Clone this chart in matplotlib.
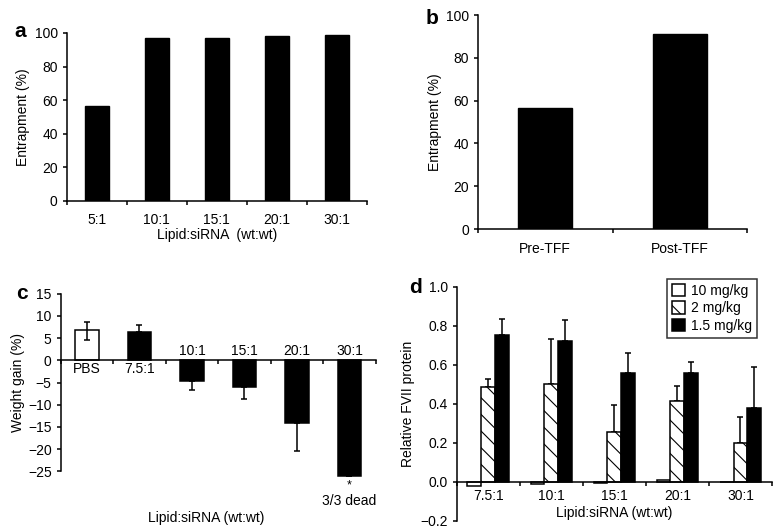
import matplotlib
matplotlib.use("Agg")
import matplotlib.pyplot as plt
import numpy as np

plt.rcParams['font.family'] = ['Liberation Sans', 'DejaVu Sans']
plt.rcParams['font.size'] = 10
plt.rcParams['hatch.linewidth'] = 0.8

# panel a
a_labels = ['5:1', '10:1', '15:1', '20:1', '30:1']
a_vals = [56.5, 97, 97, 98, 98.8]

# panel b
b_labels = ['Pre-TFF', 'Post-TFF']
b_vals = [56.5, 91.3]

# panel c
c_labels = ['PBS', '7.5:1', '10:1', '15:1', '20:1', '30:1']
c_vals = [6.9, 6.4, -4.7, -5.9, -14.1, -26.1]
c_err_low = [2.4, 0, 2.1, 2.8, 6.3, 0]
c_err_high = [1.7, 1.5, 0, 0, 0, 0]

# panel d
d_labels = ['7.5:1', '10:1', '15:1', '20:1', '30:1']
d_series = ['10 mg/kg', '2 mg/kg', '1.5 mg/kg']
d_10 = [-0.02, -0.01, -0.005, 0.008, 0.0]
d_2 = [0.487, 0.499, 0.253, 0.415, 0.197]
d_2_err = [0.038, 0.231, 0.140, 0.075, 0.136]
d_15 = [0.752, 0.721, 0.559, 0.559, 0.376]
d_15_err = [0.082, 0.108, 0.102, 0.053, 0.210]

LW = 1.1


def style_axes(ax):
    for s in ['top', 'right']:
        ax.spines[s].set_visible(False)
    for s in ['left', 'bottom']:
        ax.spines[s].set_linewidth(LW)
    ax.tick_params(axis='both', which='major', direction='out', width=LW, length=3)


def category_ticks(ax, n, pad=5):
    ax.set_xlim(-0.5, n - 0.5)
    ax.set_xticks(np.arange(-0.5, n, 1.0))
    ax.set_xticklabels([])
    ax.set_xticks(np.arange(n), minor=True)
    ax.tick_params(axis='x', which='minor', length=0, pad=pad)


fig = plt.figure(figsize=(7.77, 5.31), dpi=100)

# ---- a ----
ax = fig.add_axes([0.0858, 0.6215, 0.3865, 0.3164])
style_axes(ax)
x = np.arange(len(a_labels))
ax.bar(x, a_vals, width=0.4, color='black', edgecolor='black')
category_ticks(ax, len(a_labels), pad=8.5)
ax.set_xticklabels(a_labels, minor=True)
ax.set_ylim(0, 100)
ax.set_yticks(range(0, 101, 20))
ax.set_ylabel('Entrapment (%)', labelpad=3)
ax.set_xlabel('Lipid:siRNA  (wt:wt)', labelpad=1)
fig.text(0.019, 0.941, 'a', fontsize=15, fontweight='bold', va='center')

# ---- b ----
ax = fig.add_axes([0.6152, 0.5687, 0.3462, 0.4030])
style_axes(ax)
x = np.arange(len(b_labels))
ax.bar(x, b_vals, width=0.4, color='black', edgecolor='black')
category_ticks(ax, len(b_labels), pad=9)
ax.set_xticklabels(b_labels, minor=True)
ax.set_ylim(0, 100)
ax.set_yticks(range(0, 101, 20))
ax.set_ylabel('Entrapment (%)', labelpad=3)
fig.text(0.548, 0.966, 'b', fontsize=15, fontweight='bold', va='center')

# ---- c ----
ax = fig.add_axes([0.0781, 0.1124, 0.4053, 0.3345])
style_axes(ax)
ax.spines['bottom'].set_position(('data', 0))
x = np.arange(len(c_labels))
colors = ['white'] + ['black'] * (len(c_labels) - 1)
ax.bar(x, c_vals, width=0.45, color=colors, edgecolor='black', linewidth=LW,
       clip_on=False, zorder=2)
ax.errorbar(x, c_vals, yerr=[c_err_low, c_err_high], fmt='none', ecolor='black',
            elinewidth=LW, capsize=2.5, capthick=LW, zorder=3, clip_on=False)
category_ticks(ax, len(c_labels))
ax.set_ylim(-25, 15)
ax.set_yticks(range(-25, 16, 5))
for xi, v, lab in zip(x, c_vals, c_labels):
    if v > 0:
        ax.text(xi, -1.9, lab, ha='center', va='center')
    else:
        ax.text(xi, 2.1, lab, ha='center', va='center')
ax.text(x[-1], -28.2, '*', ha='center', va='center', fontsize=9)
ax.text(x[-1], -31.6, '3/3 dead', ha='center', va='center', clip_on=False)
ax.set_ylabel('Weight gain (%)', labelpad=2)
fig.text(0.265, 0.0245, 'Lipid:siRNA (wt:wt)', ha='center', va='center')
fig.text(0.021, 0.447, 'c', fontsize=15, fontweight='bold', va='center')

# ---- d ----
ax = fig.add_axes([0.5878, 0.0194, 0.4058, 0.4407])
style_axes(ax)
ax.spines['bottom'].set_position(('data', 0))
x = np.arange(len(d_labels))
w = 0.22
ax.bar(x - w, d_10, width=w, color='white', edgecolor='black', linewidth=LW,
       label=d_series[0], zorder=2)
ax.bar(x, d_2, width=w, color='white', edgecolor='black', linewidth=LW,
       hatch='\\\\', label=d_series[1], zorder=2)
ax.errorbar(x, d_2, yerr=[np.zeros(len(d_2)), d_2_err], fmt='none', ecolor='black',
            elinewidth=LW, capsize=2.5, capthick=LW, zorder=1)
ax.bar(x + w, d_15, width=w, color='black', edgecolor='black', linewidth=LW,
       label=d_series[2], zorder=2)
ax.errorbar(x + w, d_15, yerr=[np.zeros(len(d_15)), d_15_err], fmt='none',
            ecolor='black', elinewidth=LW, capsize=2.5, capthick=LW, zorder=1)
category_ticks(ax, len(d_labels))
ax.set_xticklabels(d_labels, minor=True)
ax.set_ylim(-0.2, 1.0)
ax.set_yticks(np.arange(-0.2, 1.01, 0.2))
ax.set_yticklabels(['\u22120.2', '0.0', '0.2', '0.4', '0.6', '0.8', '1.0'])
ax.set_ylabel('Relative FVII protein', labelpad=4)
ax.text(2, -0.16, 'Lipid:siRNA (wt:wt)', ha='center', va='center')
leg = ax.legend(loc='upper right', bbox_to_anchor=(0.952, 1.033), frameon=True,
                fancybox=False, edgecolor='black', handlelength=1.0,
                handleheight=1.0, handletextpad=0.4, borderpad=0.35,
                labelspacing=0.25, borderaxespad=0.0)
leg.get_frame().set_linewidth(LW)
fig.text(0.526, 0.458, 'd', fontsize=15, fontweight='bold', va='center')

fig.savefig('out.png', dpi=100)
